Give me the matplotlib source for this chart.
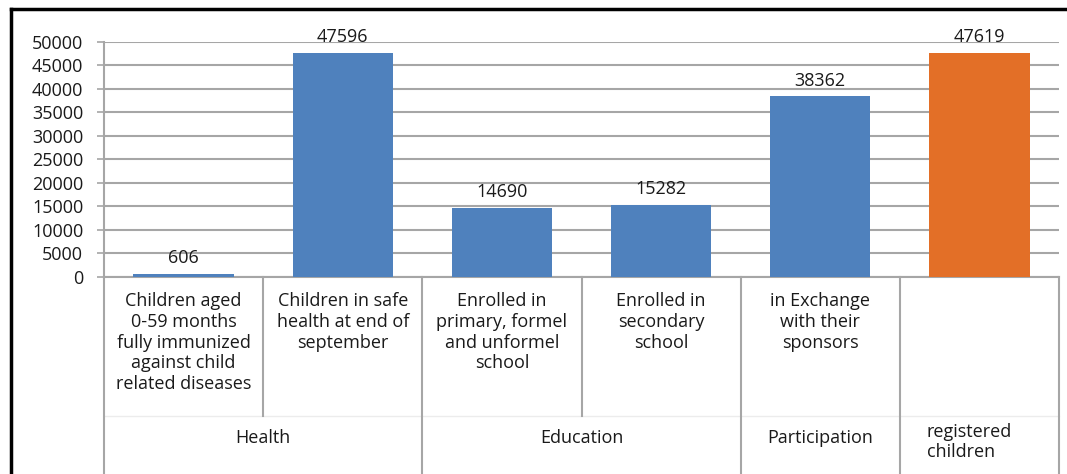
import matplotlib.pyplot as plt
from matplotlib import transforms
from matplotlib.lines import Line2D

# Data
sub_labels = [
    "Children aged\n0-59 months\nfully immunized\nagainst child\nrelated diseases",
    "Children in safe\nhealth at end of\nseptember",
    "Enrolled in\nprimary, formel\nand unformel\nschool",
    "Enrolled in\nsecondary\nschool",
    "in Exchange\nwith their\nsponsors",
    "",
]
values = [606, 47596, 14690, 15282, 38362, 47619]
bar_colors = ["#4F81BD", "#4F81BD", "#4F81BD", "#4F81BD", "#4F81BD", "#E36F27"]
groups = ["Health", "Education", "Participation", "registered\nchildren"]
group_spans = [(0, 1), (2, 3), (4, 4), (5, 5)]
yticks = list(range(0, 50001, 5000))

plt.rcParams['font.family'] = ['Open Sans', 'DejaVu Sans']
grid_gray = "#A6A6A6"
txt = '#1a1a1a'
fs = 13

fig = plt.figure(figsize=(10.67, 4.74), dpi=100)
ax = fig.add_axes([104 / 1067, 1 - 277 / 474, (1059 - 104) / 1067, (277 - 41.7) / 474])

x = list(range(len(values)))
ax.bar(x, values, width=0.63, color=bar_colors, zorder=3)
for xi, v in zip(x, values):
    ax.annotate(str(v), (xi, v), xytext=(0, 5), textcoords='offset points',
                ha='center', va='bottom', fontsize=fs, color=txt)

ax.set_xlim(-0.5, len(values) - 0.5)
ax.set_ylim(0, 50000)
ax.set_yticks(yticks)
ax.set_yticklabels([str(t) for t in yticks], fontsize=fs, color=txt)
ax.yaxis.grid(True, color=grid_gray, linewidth=1.5, zorder=0)
ax.set_axisbelow(True)
ax.tick_params(axis='y', length=5, width=1.2, color=grid_gray, pad=10)
ax.set_xticks([])
for s in ['top', 'right']:
    ax.spines[s].set_visible(False)
for s in ['left', 'bottom']:
    ax.spines[s].set_color(grid_gray)
    ax.spines[s].set_linewidth(1.5)

# multi-level category axis
bt = transforms.blended_transform_factory(ax.transData, fig.transFigure)
y_axis0 = 1 - 277 / 474
y_mid = 1 - 416 / 474
fig.add_artist(Line2D([-0.5, len(values) - 0.5], [y_mid, y_mid], transform=bt,
                      color='#ECECEC', linewidth=1.0))
group_edges = {-0.5} | {e + 0.5 for _, e in group_spans}
for b in [i - 0.5 for i in range(len(values) + 1)]:
    ybot = 0 if b in group_edges else y_mid
    fig.add_artist(Line2D([b, b], [y_axis0, ybot], transform=bt,
                          color=grid_gray, linewidth=1.5))

for xi, lab in zip(x, sub_labels):
    ax.text(xi, 1 - 292 / 474, lab, transform=bt, ha='center', va='top',
            fontsize=fs, linespacing=1.2, color=txt)

for (s, e), g in zip(group_spans, groups):
    if "\n" in g:
        ax.text(s - 0.33, 1 - 442 / 474, g, transform=bt, ha='left', va='center',
                fontsize=fs, linespacing=1.2, color=txt)
    else:
        ax.text((s + e) / 2, 1 - 438 / 474, g, transform=bt, ha='center', va='center',
                fontsize=fs, color=txt)

# black frame around chart
fx = 11 / 1067
fy = 1 - 9 / 474
fig.add_artist(Line2D([fx, fx], [0, fy], transform=fig.transFigure, color='black', linewidth=2.5))
fig.add_artist(Line2D([fx, 1.0], [fy, fy], transform=fig.transFigure, color='black', linewidth=2.5))

fig.savefig("out.png", dpi=100)
